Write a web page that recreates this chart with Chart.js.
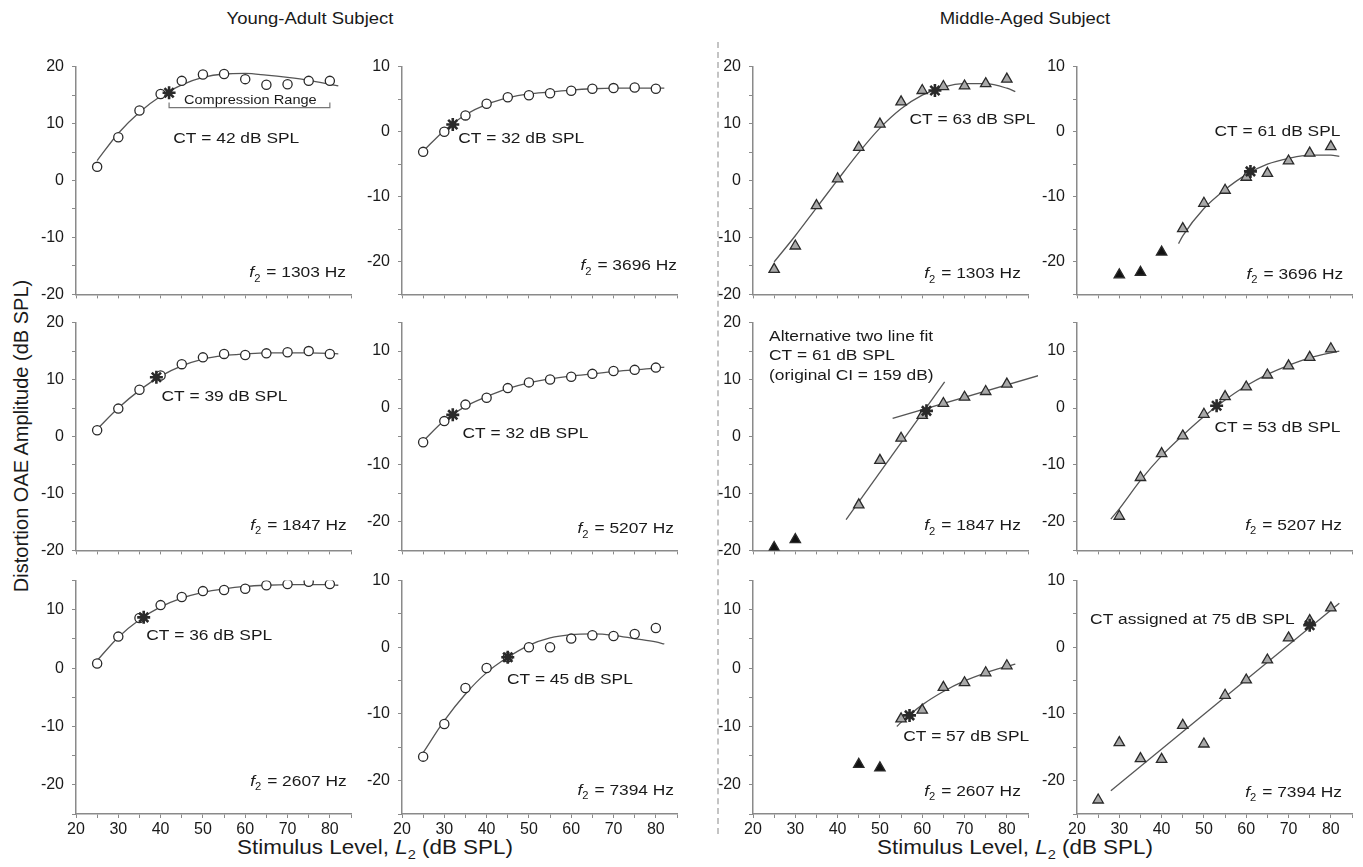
<!DOCTYPE html>
<html>
<head>
<meta charset="utf-8">
<script src="https://cdn.jsdelivr.net/npm/chart.js@4.4.1/dist/chart.umd.min.js"></script>
<style>
  body { margin: 0; background: #fff; font-family: "Liberation Sans", Arial, sans-serif; }
  #wrap { position: relative; width: 1363px; height: 867px; overflow: hidden; }
  #wrap canvas { position: absolute; }
  .lbl { position: absolute; color: #1a1a1a; white-space: nowrap; text-align: center; }
  .title { font-size: 16.5px; top: 9px; width: 300px; margin-left: -150px; transform: scaleX(1.12); }
  .xt { font-size: 20px; top: 836px; width: 400px; margin-left: -200px; transform: scaleX(1.12); }
  #ytitle { font-size: 20px; width: 420px; left: -189px; top: 424px; line-height: 24px; transform: rotate(-90deg); }
  #divider { position: absolute; left: 717px; top: 42px; height: 792px; border-left: 2px dashed #c4c4c4; }
</style>
</head>
<body>
<div id="wrap">
  <div class="lbl title" style="left:310px">Young-Adult Subject</div>
  <div class="lbl title" style="left:1025px">Middle-Aged Subject</div>
  <div class="lbl" id="ytitle">Distortion OAE Amplitude (dB SPL)</div>
  <div class="lbl xt" style="left:375px">Stimulus Level, <i>L</i><sub style="font-size:13px">2</sub> (dB SPL)</div>
  <div class="lbl xt" style="left:1015px">Stimulus Level, <i>L</i><sub style="font-size:13px">2</sub> (dB SPL)</div>
  <div id="divider"></div>
</div>
<script>
// stimulus levels L2 (dB SPL)
const levels = [25, 30, 35, 40, 45, 50, 55, 60, 65, 70, 75, 80];
const fitLevels = [25, 30, 35, 40, 45, 50, 55, 60, 65, 70, 75, 80, 82];

// Young-adult subject (open circles + fitted curves)
const ya1303 = [2.4, 7.6, 12.3, 15.2, 17.5, 18.6, 18.7, 17.8, 16.8, 16.9, 17.5, 17.5];
const ya1303Fit = [3.5, 8.3, 12.0, 14.8, 16.8, 18.1, 18.7, 18.8, 18.5, 18.1, 17.6, 16.9, 16.6];
const ya3696 = [-3.1, 0.0, 2.5, 4.3, 5.3, 5.6, 5.9, 6.3, 6.6, 6.7, 6.8, 6.6];
const ya3696Fit = [-3.0, 0.2, 2.6, 4.2, 5.2, 5.8, 6.1, 6.4, 6.6, 6.7, 6.7, 6.7, 6.7];
const ya1847 = [1.1, 4.9, 8.2, 10.7, 12.7, 13.9, 14.5, 14.3, 14.6, 14.8, 15.0, 14.5];
const ya1847Fit = [1.3, 5.0, 8.1, 10.6, 12.4, 13.6, 14.2, 14.5, 14.7, 14.7, 14.7, 14.6, 14.5];
const ya5207 = [-6.0, -2.3, 0.6, 1.8, 3.5, 4.5, 5.0, 5.5, 6.0, 6.5, 6.7, 7.1];
const ya5207Fit = [-5.8, -2.2, 0.3, 2.0, 3.4, 4.4, 5.1, 5.6, 6.0, 6.4, 6.7, 7.0, 7.2];
const ya2607 = [0.8, 5.4, 8.6, 10.8, 12.2, 13.2, 13.4, 13.6, 14.2, 14.4, 14.8, 14.4];
const ya2607Fit = [1.3, 5.3, 8.3, 10.5, 12.0, 13.0, 13.6, 14.0, 14.2, 14.3, 14.3, 14.3, 14.2];
const ya7394 = [-16.4, -11.5, -6.1, -3.1, -1.5, 0.0, 0.0, 1.3, 1.8, 1.7, 2.0, 2.9];
const ya7394Fit = [-15.8, -11.0, -7.0, -3.8, -1.5, 0.3, 1.4, 1.9, 2.0, 1.8, 1.3, 0.8, 0.5];

// compression range bracket (1303 Hz, young adult)
const bracketX = [42, 42, 80, 80];
const bracketY = [13.7, 12.8, 12.8, 13.7];

// Middle-aged subject (grey triangles = used in fit, black = excluded)
const ma1303 = [-15.6, -11.5, -4.4, 0.3, 5.8, 9.9, 13.8, 15.8, 16.5, 16.6, 17.0, 17.8];
const ma1303Fit = [-14.3, -9.7, -4.8, 0.1, 4.9, 9.2, 12.6, 15.0, 16.4, 17.0, 17.0, 16.2, 15.6];

const ma3696LowX = [30, 35, 40];
const ma3696Low = [-22.0, -21.6, -18.5];
const ma3696X = [45, 50, 55, 60, 65, 70, 75, 80];
const ma3696 = [-14.9, -11.0, -9.0, -7.0, -6.4, -4.5, -3.3, -2.3];
const ma3696FitX = [44, 45, 50, 55, 60, 65, 70, 75, 80, 82];
const ma3696Fit = [-17.2, -16.0, -11.8, -8.9, -6.6, -5.0, -4.1, -3.6, -3.6, -3.8];

const ma1847LowX = [25, 30];
const ma1847Low = [-19.5, -18.1];
const ma1847X = [45, 50, 55, 60, 65, 70, 75, 80];
const ma1847 = [-12.0, -4.2, -0.3, 3.7, 5.8, 6.9, 7.9, 9.2];
const ma1847SteepX = [42, 65.3];
const ma1847Steep = [-14.6, 9.6];
const ma1847ShallowX = [53, 87.5];
const ma1847Shallow = [3.2, 10.7];

const ma5207X = [30, 35, 40, 45, 50, 55, 60, 65, 70, 75, 80];
const ma5207 = [-19.0, -12.2, -8.0, -4.9, -1.1, 2.0, 3.7, 5.8, 7.4, 8.9, 10.4];
const ma5207FitX = [28, 30, 35, 40, 45, 50, 55, 60, 65, 70, 75, 80, 82];
const ma5207Fit = [-19.5, -17.7, -12.7, -8.4, -4.8, -1.5, 1.4, 3.9, 5.9, 7.5, 8.8, 9.7, 10.0];

const ma2607LowX = [45, 50];
const ma2607Low = [-16.5, -17.1];
const ma2607X = [55, 60, 65, 70, 75, 80];
const ma2607 = [-8.7, -7.2, -3.3, -2.5, -0.8, 0.4];
const ma2607FitX = [54, 55, 60, 65, 70, 75, 80, 82];
const ma2607Fit = [-10.0, -9.3, -6.3, -4.0, -2.2, -0.8, 0.3, 0.7];

const ma7394 = [-22.9, -14.3, -16.7, -16.8, -11.7, -14.5, -7.2, -4.9, -1.9, 1.4, 4.0, 5.9];
const ma7394LineX = [28, 82];
const ma7394Line = [-21.5, 6.6];

// compression thresholds (asterisks)
const ctYA = { f1303: [42, 15.4], f3696: [32, 1.1], f1847: [39, 10.4], f5207: [32, -1.2], f2607: [36, 8.7], f7394: [45, -1.5] };
const ctMA = { f1303: [63, 15.8], f3696: [61, -6.1], f1847: [61, 4.5], f5207: [53, 0.4], f2607: [57, -8.1], f7394: [75, 3.3] };

const FONT = '"Liberation Sans", Arial, sans-serif';
const STRETCH = 1.12;

const colX = [76, 402, 753, 1077];
const rowTop = [59, 315, 573];
const rowBottom = [302, 558, 814];
const plotW = 275;

function pts(xs, ys) {
  return xs.map((x, i) => ({ x: x, y: ys[i] }));
}

function marks(xs, ys, kind) {
  const s = {
    data: pts(xs, ys), showLine: false, pointHoverRadius: 0,
    pointBorderColor: '#2a2a2a', pointBorderWidth: 1.3
  };
  if (kind === 'open') {
    s.pointStyle = 'circle'; s.pointRadius = 4.6; s.pointBackgroundColor = '#fff';
  } else if (kind === 'grey') {
    s.pointStyle = 'triangle'; s.pointRadius = 6; s.pointBackgroundColor = '#a9a9a9';
  } else {
    s.pointStyle = 'triangle'; s.pointRadius = 6; s.pointBackgroundColor = '#111';
  }
  return s;
}

function fit(xs, ys, straight) {
  return {
    data: pts(xs, ys), pointRadius: 0, borderColor: '#555', borderWidth: 1.3,
    cubicInterpolationMode: straight ? 'default' : 'monotone', tension: 0, clip: false
  };
}

function star(p) {
  return {
    data: [{ x: p[0], y: p[1] }], showLine: false, pointStyle: 'star',
    pointRadius: 6.5, pointBorderColor: '#2a2a2a', pointBorderWidth: 2.6
  };
}

const panels = [
  { col: 0, row: 0, yMin: -20, yMax: 20, f2: '1303', f2Pos: [83.8, -16.2],
    sets: [star(ctYA.f1303), marks(levels, ya1303, 'open'), fit(fitLevels, ya1303Fit),
           Object.assign(fit(bracketX, bracketY, true), { borderColor: '#777', borderWidth: 1.2 })],
    texts: [{ x: 43, y: 7.3, s: 'CT = 42 dB SPL' }, { x: 61.2, y: 14.1, s: 'Compression Range', size: 13, center: true }] },
  { col: 1, row: 0, yMin: -25, yMax: 10, f2: '3696', f2Pos: [85, -20.6],
    sets: [star(ctYA.f3696), marks(levels, ya3696, 'open'), fit(fitLevels, ya3696Fit)],
    texts: [{ x: 33.3, y: -1.1, s: 'CT = 32 dB SPL' }] },
  { col: 2, row: 0, yMin: -20, yMax: 20, f2: '1303', f2Pos: [83.3, -16.4],
    sets: [star(ctMA.f1303), marks(levels, ma1303, 'grey'), fit(fitLevels, ma1303Fit)],
    texts: [{ x: 57, y: 10.6, s: 'CT = 63 dB SPL' }] },
  { col: 3, row: 0, yMin: -25, yMax: 10, f2: '3696', f2Pos: [82.9, -21.9],
    sets: [star(ctMA.f3696), marks(ma3696X, ma3696, 'grey'), marks(ma3696LowX, ma3696Low, 'black'), fit(ma3696FitX, ma3696Fit)],
    texts: [{ x: 52.5, y: 0, s: 'CT = 61 dB SPL' }] },
  { col: 0, row: 1, yMin: -20, yMax: 20, f2: '1847', f2Pos: [84, -15.6],
    sets: [star(ctYA.f1847), marks(levels, ya1847, 'open'), fit(fitLevels, ya1847Fit)],
    texts: [{ x: 40.2, y: 7.0, s: 'CT = 39 dB SPL' }] },
  { col: 1, row: 1, yMin: -25, yMax: 15, f2: '5207', f2Pos: [84.3, -21.2],
    sets: [star(ctYA.f5207), marks(levels, ya5207, 'open'), fit(fitLevels, ya5207Fit)],
    texts: [{ x: 34.3, y: -4.5, s: 'CT = 32 dB SPL' }] },
  { col: 2, row: 1, yMin: -20, yMax: 20, f2: '1847', f2Pos: [83.3, -15.7],
    sets: [star(ctMA.f1847), marks(ma1847X, ma1847, 'grey'), marks(ma1847LowX, ma1847Low, 'black'),
           fit(ma1847SteepX, ma1847Steep, true), fit(ma1847ShallowX, ma1847Shallow, true)],
    texts: [{ x: 23.8, y: 17.6, s: 'Alternative two line fit' }, { x: 23.8, y: 14.1, s: 'CT = 61 dB SPL' },
            { x: 23.8, y: 10.7, s: '(original CI = 159 dB)' }] },
  { col: 3, row: 1, yMin: -25, yMax: 15, f2: '5207', f2Pos: [82.6, -20.6],
    sets: [star(ctMA.f5207), marks(ma5207X, ma5207, 'grey'), fit(ma5207FitX, ma5207Fit)],
    texts: [{ x: 52.5, y: -3.4, s: 'CT = 53 dB SPL' }] },
  { col: 0, row: 2, yMin: -25, yMax: 15, f2: '2607', f2Pos: [84, -19.4],
    sets: [star(ctYA.f2607), marks(levels, ya2607, 'open'), fit(fitLevels, ya2607Fit)],
    texts: [{ x: 36.6, y: 5.6, s: 'CT = 36 dB SPL' }] },
  { col: 1, row: 2, yMin: -25, yMax: 10, f2: '7394', f2Pos: [84.3, -21.5],
    sets: [star(ctYA.f7394), marks(levels, ya7394, 'open'), fit(fitLevels, ya7394Fit)],
    texts: [{ x: 44.8, y: -4.9, s: 'CT = 45 dB SPL' }] },
  { col: 2, row: 2, yMin: -25, yMax: 15, f2: '2607', f2Pos: [83.3, -21.1],
    sets: [star(ctMA.f2607), marks(ma2607X, ma2607, 'grey'), marks(ma2607LowX, ma2607Low, 'black'), fit(ma2607FitX, ma2607Fit)],
    texts: [{ x: 55.5, y: -11.8, s: 'CT = 57 dB SPL' }] },
  { col: 3, row: 2, yMin: -25, yMax: 10, f2: '7394', f2Pos: [82.6, -21.8],
    sets: [star(ctMA.f7394), marks(levels, ma7394, 'grey'), fit(ma7394LineX, ma7394Line, true)],
    texts: [{ x: 23.1, y: 4.2, s: 'CT assigned at 75 dB SPL' }] }
];

// draws the in-panel annotations at data coordinates
const notesPlugin = {
  id: 'notes',
  afterDatasetsDraw(chart, args, o) {
    const ctx = chart.ctx, xs = chart.scales.x, ys = chart.scales.y;
    ctx.save();
    ctx.fillStyle = '#1a1a1a';
    ctx.textBaseline = 'middle';
    (o.texts || []).forEach(t => {
      const px = xs.getPixelForValue(t.x), py = ys.getPixelForValue(t.y);
      ctx.font = (t.size || 15.5) + 'px ' + FONT;
      const w = ctx.measureText(t.s).width * STRETCH;
      ctx.save();
      ctx.translate(t.center ? px - w / 2 : px, py);
      ctx.scale(STRETCH, 1);
      ctx.fillText(t.s, 0, 0);
      ctx.restore();
    });
    if (o.f2) {
      const px = xs.getPixelForValue(o.f2Pos[0]), py = ys.getPixelForValue(o.f2Pos[1]);
      const a = 'italic 15.5px ' + FONT, b = '10px ' + FONT, c = '15.5px ' + FONT;
      const rest = ' = ' + o.f2 + ' Hz';
      ctx.font = a; const w1 = ctx.measureText('f').width + 1;
      ctx.font = b; const w2 = ctx.measureText('2').width;
      ctx.font = c; const w3 = ctx.measureText(rest).width;
      ctx.save();
      ctx.translate(px - (w1 + w2 + w3) * STRETCH, py);
      ctx.scale(STRETCH, 1);
      ctx.font = a; ctx.fillText('f', 0, 0);
      ctx.font = b; ctx.fillText('2', w1 - 1, 6);
      ctx.font = c; ctx.fillText(rest, w1 + w2, 0);
      ctx.restore();
    }
    ctx.restore();
  }
};

const wrap = document.getElementById('wrap');

panels.forEach(p => {
  const bottom = p.row === 2;
  const xh = bottom ? 30 : 10;
  const top = rowTop[p.row], plotH = rowBottom[p.row] - top;
  const cv = document.createElement('canvas');
  const W = 50 + plotW + 10, H = 10 + plotH + xh;
  cv.width = W; cv.height = H;
  cv.style.width = W + 'px'; cv.style.height = H + 'px';
  cv.style.left = (colX[p.col] - 50) + 'px';
  cv.style.top = (top - 10) + 'px';
  wrap.appendChild(cv);

  new Chart(cv, {
    type: 'line',
    data: { datasets: p.sets },
    plugins: [notesPlugin],
    options: {
      responsive: false,
      animation: false,
      devicePixelRatio: 1,
      layout: { padding: { top: 10, right: 10, left: 0, bottom: 0 } },
      plugins: {
        legend: { display: false },
        tooltip: { enabled: false },
        notes: { texts: p.texts, f2: p.f2, f2Pos: p.f2Pos }
      },
      scales: {
        x: {
          type: 'linear', min: 20, max: 85,
          afterFit: s => { s.height = xh; },
          border: { color: '#8a8a8a', width: 1.5 },
          grid: { drawOnChartArea: false, drawTicks: true, tickLength: 4, color: '#8a8a8a' },
          ticks: {
            display: bottom, stepSize: 5, autoSkip: false, padding: 2, maxRotation: 0,
            color: '#1a1a1a', font: { family: FONT, size: 16 },
            callback: v => (v % 10 === 0 && v <= 80) ? v : ''
          }
        },
        y: {
          min: p.yMin, max: p.yMax,
          afterFit: s => { s.width = 50; },
          border: { color: '#8a8a8a', width: 1.5 },
          grid: { drawOnChartArea: false, drawTicks: true, tickLength: 4, color: '#8a8a8a' },
          ticks: {
            stepSize: 5, autoSkip: false, padding: 8,
            color: '#1a1a1a', font: { family: FONT, size: 16 },
            callback: v => v % 10 === 0 ? v : ''
          }
        }
      }
    }
  });
});
</script>
</body>
</html>
